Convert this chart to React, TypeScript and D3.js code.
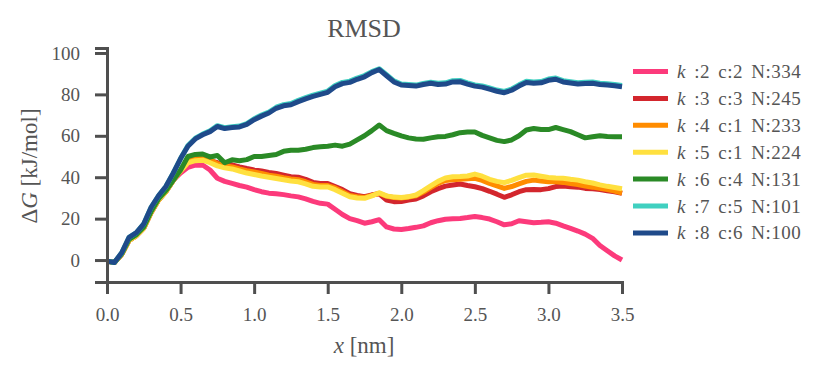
import React, { useEffect, useRef } from "react";
import { select, scaleLinear, axisLeft, axisBottom, line, range } from "d3";

// x grid in nm (every 0.05)
const xs = range(71).map((i) => +(i * 0.05).toFixed(2));

const pinkVals = [
  -0.5, -1.2, 2.8, 9.5, 11.8, 15.5, 23, 29, 33, 38.5,
  42, 44.8, 45.8, 45.9, 43.5, 39.5, 38, 37, 36, 35.2,
  34, 33, 32.3, 32, 31.6, 31, 30.5, 29.5, 28.3, 27.4,
  27, 24.5, 22, 20, 19, 17.8, 18.5, 19.5, 16, 15,
  14.8, 15.2, 15.8, 16.5, 18, 19, 19.7, 19.9, 20.1, 20.5,
  21, 20.5, 19.8, 18.5, 17, 17.5, 19, 18.5, 18, 18.2,
  18.5, 17.8, 16.5, 15.3, 14, 12.5, 10.5, 7, 4.5, 2, 0,
];
const redVals = [
  -0.5, -1.2, 2.8, 9.5, 11.8, 15.5, 23, 29, 33, 38.5,
  43, 47.5, 48.8, 49, 48, 47, 46.5, 46, 45, 44.2,
  43.5, 43, 42.3, 41.8, 41, 40.2, 40, 39, 37.5, 37,
  37, 35.5, 34, 32, 31.2, 30.6, 31.5, 32, 29, 28.2,
  28.3, 29, 29.5, 31, 33, 34.5, 35.7, 36.2, 36.7, 36,
  35.4, 34.5, 33.2, 31.8, 30.3, 31.5, 33, 34, 34.1, 34,
  34.5, 35.5, 35.7, 35.4, 35.2, 34.6, 34.4, 34.1, 33.5, 33, 32.2,
];
const orangeVals = [
  -0.5, -1.2, 2.8, 9.5, 11.8, 15.5, 23, 29, 33, 38.5,
  43.5, 48, 49.3, 49.5, 48.3, 46.5, 45.6, 45, 44, 43.2,
  42.5, 41.8, 41, 40.5, 39.8, 39.2, 38.8, 37.8, 36.5, 36,
  36, 34.8, 33, 31.2, 30.6, 30.2, 31.2, 32.2, 30.8, 30.2,
  30, 30.4, 31, 32.8, 35, 37, 38.4, 38.8, 39, 39.2,
  39.5, 38.5, 37, 35.8, 34.6, 35.5, 36.8, 38, 38.6, 38.2,
  37.8, 37.8, 37.5, 36.9, 36.5, 35.7, 35.2, 34.6, 34, 33.3, 32.4,
];
const yellowVals = [
  -0.5, -1.2, 2.8, 9.5, 11.8, 15.5, 23, 29, 33, 38.5,
  43, 47, 48, 48.2, 47, 45.5, 44.5, 44, 43, 42,
  41.3, 40.6, 40, 39.4, 38.8, 38.2, 37.8, 36.8, 35.6, 35.3,
  35.3, 34, 32.3, 30.6, 30, 29.8, 31, 32.5, 31, 30.4,
  30.2, 30.6, 31.4, 33.5, 35.8, 38, 39.6, 40.2, 40.3, 40.6,
  41.5, 40.5, 39, 38, 37.4, 38.5, 39.8, 41, 41.1, 40.5,
  39.9, 39.6, 39.5, 39, 38.6, 37.8, 37.2, 36.3, 35.6, 35, 34.4,
];
const greenVals = [
  -0.5, -1.2, 3, 10, 12.3, 16, 23.5, 29.5, 33.5, 38.5,
  43.5, 50, 51, 51.2, 49.8, 50.5, 47, 48.4, 48, 48.5,
  50, 50, 50.5, 51, 52.5, 53, 53, 53.5, 54.3, 54.7,
  55, 55.5, 55, 56, 58, 60, 62.5, 65.2, 62.5, 61.2,
  60, 59, 58.5, 58.3, 59, 59.5, 59.7, 60.5, 61.5, 61.8,
  61.8, 60.2, 59, 57.8, 57.2, 58, 60, 62.8, 63.5, 63,
  63, 64, 63, 62, 60.5, 59, 59.5, 60, 59.7, 59.6, 59.6,
];
const turquoiseVals = [
  -0.5, -1.2, 3.5, 11, 13.2, 17.5, 25.5, 31, 35.5, 42,
  49, 55.3, 58.8, 60.8, 62.4, 64.9, 63.9, 64.4, 64.7, 65.9,
  68.2, 70, 71.5, 73.8, 75, 75.6, 77.1, 78.4, 79.6, 80.6,
  81.6, 84.3, 85.8, 86.4, 87.9, 89.1, 91, 92.4, 89.5, 86.5,
  85, 84.8, 84.5, 85.3, 85.9, 85.4, 85.6, 86.6, 86.7, 85.6,
  84.6, 84.1, 83.1, 82.1, 81.4, 82.6, 84.6, 86.3, 86, 86.2,
  87.4, 87.9, 86.6, 86.1, 85.6, 85.9, 86, 85.4, 85.1, 84.8, 84.3,
];
const blueVals = [
  -0.5, -1.2, 3.5, 11, 13.2, 17.5, 25.5, 31, 35.5, 42,
  49, 55, 58.5, 60.5, 62, 64.5, 63.5, 64, 64.3, 65.5,
  67.8, 69.5, 71, 73.3, 74.5, 75, 76.5, 77.8, 79, 80,
  81, 83.7, 85.2, 85.8, 87.3, 88.5, 90.5, 92, 89, 86,
  84.5, 84.3, 84, 84.8, 85.4, 84.8, 85, 86, 86.1, 85,
  84, 83.5, 82.5, 81.5, 80.8, 82, 84, 85.7, 85.4, 85.6,
  86.8, 87.3, 86, 85.5, 85, 85.3, 85.4, 84.8, 84.5, 84.2, 83.7,
];

const ks = [2, 3, 4, 5, 6, 7, 8];
const cs = [2, 3, 1, 1, 4, 5, 6];
const ns = [334, 245, 233, 224, 131, 101, 100];
const colors = ["#fc3a7b", "#d3262d", "#ff8c00", "#ffe03f", "#2a8a26", "#40d0c0", "#1f4a8a"];
const seriesVals = [pinkVals, redVals, orangeVals, yellowVals, greenVals, turquoiseVals, blueVals];

const xTicks = [0, 0.5, 1, 1.5, 2, 2.5, 3, 3.5];
const yTicks = [0, 20, 40, 60, 80, 100];

const W = 831;
const H = 376;
const FONT = "'Liberation Serif', 'DejaVu Serif', serif";
const GREY = "#4f4f4f";

function App() {
  const ref = useRef<HTMLDivElement>(null);

  useEffect(() => {
    const svg = select(ref.current)
      .append("svg")
      .attr("width", W)
      .attr("height", H)
      .style("display", "block")
      .style("font-family", FONT);

    const x = scaleLinear().domain([0, 3.5]).range([107, 622]);
    const y = scaleLinear().domain([-10.6, 102.4]).range([282, 48]);

    // lines
    const gen = line<number>()
      .x((_, i) => x(xs[i]))
      .y((d) => y(d));
    seriesVals.forEach((vals, i) => {
      svg
        .append("path")
        .datum(vals)
        .attr("fill", "none")
        .attr("stroke", colors[i])
        .attr("stroke-width", 5)
        .attr("stroke-linejoin", "round")
        .attr("stroke-linecap", "butt")
        .attr("d", gen);
    });

    // axes
    const gy = svg
      .append("g")
      .attr("transform", "translate(107,0)")
      .call(axisLeft(y).tickValues(yTicks).tickSize(12).tickPadding(15).tickFormat((d) => String(d)));
    const gx = svg
      .append("g")
      .attr("transform", "translate(0,282)")
      .call(axisBottom(x).tickValues(xTicks).tickSize(12).tickPadding(14).tickFormat((d) => (+d).toFixed(1)));

    [gx, gy].forEach((g) => {
      g.select(".domain").attr("stroke", GREY).attr("stroke-width", 3);
      g.selectAll(".tick line").attr("stroke", GREY).attr("stroke-width", 3);
      g.selectAll(".tick text")
        .attr("fill", "#555")
        .style("font-size", "19px")
        .style("font-family", FONT);
    });

    // title & labels
    svg
      .append("text")
      .attr("x", 364)
      .attr("y", 37)
      .attr("text-anchor", "middle")
      .attr("fill", "#555")
      .style("font-size", "26px")
      .text("RMSD");

    const xl = svg
      .append("text")
      .attr("x", 364)
      .attr("y", 353)
      .attr("text-anchor", "middle")
      .attr("fill", "#555")
      .style("font-size", "23px");
    xl.append("tspan").attr("font-style", "italic").text("x");
    xl.append("tspan").text(" [nm]");

    const yl = svg
      .append("text")
      .attr("transform", "translate(37,166) rotate(-90)")
      .attr("text-anchor", "middle")
      .attr("fill", "#555")
      .style("font-size", "23px");
    yl.append("tspan").text("Δ");
    yl.append("tspan").attr("font-style", "italic").text("G");
    yl.append("tspan").text(" [kJ/mol]");

    // legend
    ks.forEach((k, i) => {
      const ly = 71.5 + i * 26.9;
      svg
        .append("line")
        .attr("x1", 633)
        .attr("x2", 668)
        .attr("y1", ly)
        .attr("y2", ly)
        .attr("stroke", colors[i])
        .attr("stroke-width", 5);
      const t = svg
        .append("text")
        .attr("x", 677)
        .attr("y", ly + 6.5)
        .attr("fill", "#555")
        .style("font-size", "19px")
        .style("letter-spacing", "0.5px")
        .style("word-spacing", "3px");
      t.append("tspan").attr("font-style", "italic").text("k");
      t.append("tspan").text(` :${k} c:${cs[i]} N:${ns[i]}`);
    });

    return () => {
      svg.remove();
    };
  }, []);

  return <div ref={ref} style={{ position: "absolute", left: 0, top: 0 }}></div>;
}

export default App;
